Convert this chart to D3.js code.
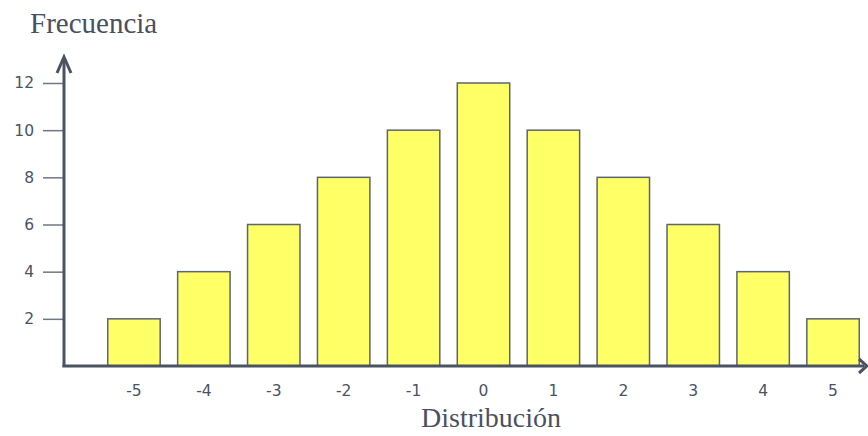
<!DOCTYPE html>
<html><head><meta charset="utf-8">
<script src="https://cdn.jsdelivr.net/npm/d3@7"></script>
<style>body{margin:0;background:#fff}svg{display:block}</style>
</head><body>
<svg id="c" width="868" height="436"></svg>
<script>
const categories = ["-5","-4","-3","-2","-1","0","1","2","3","4","5"];
const frequencies = [2,4,6,8,10,12,10,8,6,4,2];
const yTicks = [2,4,6,8,10,12];
const yTitle = "Frecuencia";
const xTitle = "Distribución";

const svg = d3.select("#c");
const axisX0 = 64, baseY = 366;
const x = d3.scaleBand().domain(categories).range([99, 868]).paddingInner(0.25).paddingOuter(0.125);
const y = d3.scaleLinear().domain([0, 12]).range([baseY, 83]);

const axisCol = "#4b5362";
const tickFont = "'DejaVu Sans', Verdana, sans-serif";
const titleFont = "'Liberation Serif', 'Times New Roman', serif";

// bars
svg.selectAll("rect.bar").data(frequencies).join("rect")
  .attr("class","bar")
  .attr("x",(d,i)=>x(categories[i]))
  .attr("y",d=>y(d))
  .attr("width",x.bandwidth())
  .attr("height",d=>baseY - y(d))
  .attr("fill","#ffff66")
  .attr("stroke","#5d6472")
  .attr("stroke-width",1.5);

// y ticks
const yAxis = d3.axisLeft(y).tickValues(yTicks).tickSize(21).tickPadding(9);
const gy = svg.append("g").attr("transform",`translate(${axisX0},0)`).call(yAxis);
gy.attr("font-size",null).attr("font-family",null);
gy.select(".domain").remove();
gy.selectAll(".tick line").attr("stroke","#6e7785").attr("stroke-width",1.5);
gy.selectAll(".tick text").attr("fill","#4a5366").style("font-family",tickFont).style("font-size","15.5px");

// x labels
const xAxis = d3.axisBottom(x).tickSize(0).tickPadding(19);
const gx = svg.append("g").attr("transform",`translate(0,${baseY})`).call(xAxis);
gx.attr("font-size",null).attr("font-family",null);
gx.select(".domain").remove();
gx.selectAll(".tick text").attr("fill","#4a5366").style("font-family",tickFont).style("font-size","15.5px");

// axes lines with arrows
svg.append("line").attr("x1",axisX0).attr("y1",baseY+1).attr("x2",axisX0).attr("y2",60)
  .attr("stroke",axisCol).attr("stroke-width",3);
svg.append("line").attr("x1",axisX0-1.5).attr("y1",baseY).attr("x2",864).attr("y2",baseY)
  .attr("stroke",axisCol).attr("stroke-width",3);
svg.append("path").attr("d",`M${axisX0-7},${73} L${axisX0},${57} L${axisX0+7},${73}`)
  .attr("fill","none").attr("stroke",axisCol).attr("stroke-width",3).attr("stroke-linejoin","miter");
svg.append("path").attr("d",`M${859},${baseY-7} L${867},${baseY} L${859},${baseY+7}`)
  .attr("fill","none").attr("stroke",axisCol).attr("stroke-width",3);

// titles
svg.append("text").attr("x",30).attr("y",33).text(yTitle)
  .attr("fill","#4a5060").style("font-family",titleFont).style("font-size","29px");
svg.append("text").attr("x",491).attr("y",427).attr("text-anchor","middle").text(xTitle)
  .attr("fill","#4a5060").style("font-family",titleFont).style("font-size","28px");
</script>
</body></html>
